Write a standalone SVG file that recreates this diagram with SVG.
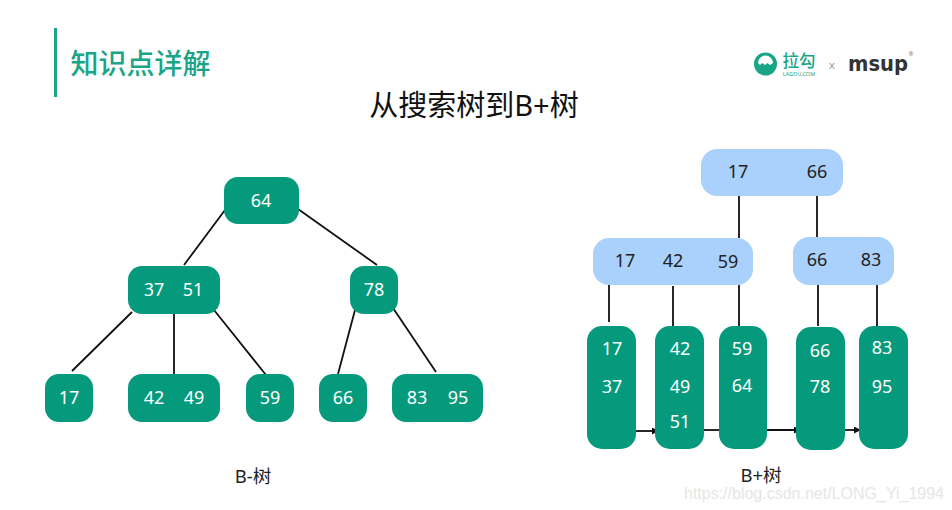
<svg xmlns="http://www.w3.org/2000/svg" width="952" height="510" viewBox="0 0 952 510">
<defs>
<marker id="arr" markerUnits="userSpaceOnUse" markerWidth="8" markerHeight="8" refX="6" refY="3.5" orient="auto"><path d="M0 0L7 3.5L0 7Z" fill="#111"/></marker>
</defs>
<style>
text{font-family:"Noto Sans","Noto Sans CJK SC",sans-serif;text-anchor:middle}
.g{fill:#069a7c}
.b{fill:#a9d1fb}
.w{fill:#fff;font-size:18px}
.d{fill:#222;font-size:18px}
.l{stroke:#111;stroke-width:1.8;fill:none}
.c{fill:#222;font-size:18.500px}
</style>
<rect width="952" height="510" fill="#fff"/>
<rect x="54" y="28" width="3" height="69" fill="#1aa587"/>
<text x="140.500" y="74" style="font-size:28px;font-weight:500;fill:#1aa587">知识点详解</text>
<text x="474" y="116" style="font-size:29px;fill:#111">从搜索树到B+树</text>
<g id="logo">
<circle cx="765.500" cy="64" r="11.500" fill="#1aa587"/>
<path d="M758 63A7.500 7.500 0 0 1 773 63L770 65L767.500 63L765 65L762 63L760 65Z" fill="#fff"/>
<text x="799" y="67" style="font-size:16.500px;font-weight:500;fill:#1aa587">拉勾</text>
<text x="799" y="76" style="font-size:5.500px;fill:#1aa587">LAGOU.COM</text>
<text x="832" y="69" style="font-size:11px;fill:#999">x</text>
<text x="878" y="71" style="font-size:21px;font-weight:700;fill:#333;font-family:'DejaVu Sans',sans-serif" textLength="60" lengthAdjust="spacingAndGlyphs">msup</text>
<text x="911" y="56" style="font-size:6px;fill:#777">®</text>
</g>
<g id="connectors">
<path class="l" d="M225 210L184 265M298 209L377 265M132 312L72 371M174 313V375M214 310L266 375M355 310L338 374M393 308L436 372"/>
<path class="l" d="M739 195V238M817 195V238M609 282V322M673 286V326M739 285V326M818 284V326M877 285V326"/>
<path class="l" marker-end="url(#arr)" d="M635 431H658"/>
<path class="l" d="M703 430H719"/>
<path class="l" marker-end="url(#arr)" d="M765 430H800"/>
<path class="l" marker-end="url(#arr)" d="M844 430H860"/>
</g>
<g id="n64"><rect class="g" x="224" y="177" width="75" height="47" rx="14"/><text class="w" x="261" y="207">64</text></g>
<g id="n3751"><rect class="g" x="128" y="266" width="92" height="48" rx="14"/><text class="w" x="154" y="296">37</text><text class="w" x="193" y="296">51</text></g>
<g id="n78"><rect class="g" x="350" y="266" width="48" height="48" rx="14"/><text class="w" x="374" y="296">78</text></g>
<g id="n17a"><rect class="g" x="45" y="374" width="48" height="48" rx="14"/><text class="w" x="69" y="404">17</text></g>
<g id="n4249"><rect class="g" x="128" y="374" width="92" height="48" rx="14"/><text class="w" x="154" y="404">42</text><text class="w" x="194" y="404">49</text></g>
<g id="n59a"><rect class="g" x="246" y="374" width="48" height="48" rx="14"/><text class="w" x="270" y="404">59</text></g>
<g id="n66a"><rect class="g" x="319" y="374" width="48" height="48" rx="14"/><text class="w" x="343" y="404">66</text></g>
<g id="n8395"><rect class="g" x="392" y="374" width="91" height="48" rx="14"/><text class="w" x="417" y="404">83</text><text class="w" x="458" y="404">95</text></g>
<g id="top"><rect class="b" x="701" y="149" width="142" height="47" rx="16"/><text class="d" x="738" y="178">17</text><text class="d" x="817" y="178">66</text></g>
<g id="mid1"><rect class="b" x="593" y="238" width="160" height="47" rx="16"/><text class="d" x="625" y="267">17</text><text class="d" x="673" y="267">42</text><text class="d" x="728" y="268">59</text></g>
<g id="mid2"><rect class="b" x="793" y="237" width="101" height="48" rx="16"/><text class="d" x="817" y="266">66</text><text class="d" x="871" y="266">83</text></g>
<g id="leaf1"><rect class="g" x="587" y="326" width="49" height="123" rx="15"/><text class="w" x="612" y="355">17</text><text class="w" x="612" y="393">37</text></g>
<g id="leaf2"><rect class="g" x="655" y="326" width="49" height="123" rx="15"/><text class="w" x="680" y="355">42</text><text class="w" x="680" y="393">49</text><text class="w" x="680" y="428">51</text></g>
<g id="leaf3"><rect class="g" x="719" y="326" width="48" height="123" rx="15"/><text class="w" x="742" y="355">59</text><text class="w" x="742" y="392">64</text></g>
<g id="leaf4"><rect class="g" x="796" y="327" width="49" height="123" rx="15"/><text class="w" x="820" y="357">66</text><text class="w" x="820" y="393">78</text></g>
<g id="leaf5"><rect class="g" x="859" y="326" width="49" height="123" rx="15"/><text class="w" x="882" y="354">83</text><text class="w" x="882" y="393">95</text></g>
<text class="c" x="253" y="483">B-树</text>
<text class="c" x="761" y="482">B+树</text>
<text x="814" y="498.500" style="font-size:16px;fill:#e6e6e6;font-family:'Liberation Sans',sans-serif">https://blog.csdn.net/LONG_Yi_1994</text>
</svg>
